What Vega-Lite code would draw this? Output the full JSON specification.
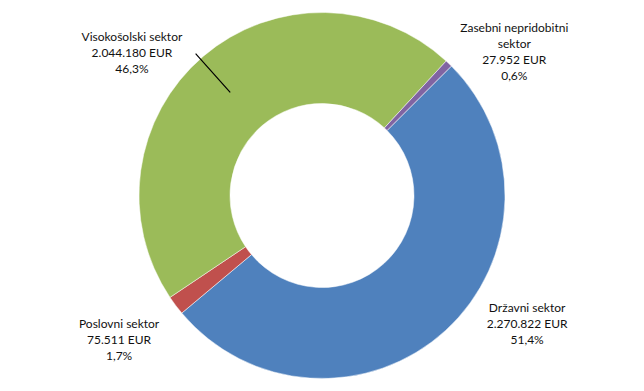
{
  "$schema": "https://vega.github.io/schema/vega-lite/v6.json",
  "width": 644,
  "height": 391,
  "autosize": {"type": "fit", "contains": "padding"},
  "padding": 0,
  "background": "white",
  "view": {"stroke": null},
  "data": {
    "values": [
      {"sector": "Državni sektor", "order": 1, "value": 2270822, "label": "Državni sektor\n2.270.822 EUR\n51,4%"},
      {"sector": "Poslovni sektor", "order": 2, "value": 75511, "label": "Poslovni sektor\n75.511 EUR\n1,7%"},
      {"sector": "Visokošolski sektor", "order": 3, "value": 2044180, "label": "Visokošolski sektor\n2.044.180 EUR\n46,3%"},
      {"sector": "Zasebni nepridobitni sektor", "order": 4, "value": 27952, "label": "Zasebni nepridobitni\nsektor\n27.952 EUR\n0,6%"}
    ]
  },
  "transform": [
    {"window": [{"op": "sum", "field": "value", "as": "cum"}], "sort": [{"field": "order"}], "frame": [null, 0]},
    {"calculate": "datum.cum - datum.value / 2", "as": "mid"}
  ],
  "encoding": {
    "theta": {"field": "value", "type": "quantitative", "stack": true, "scale": {"range": [0.7854, 7.0686]}},
    "order": {"field": "order", "type": "quantitative"},
    "detail": {"field": "sector", "type": "nominal"}
  },
  "layer": [
    {
      "mark": {"type": "arc", "outerRadius": 183, "innerRadius": 92, "stroke": "white", "strokeWidth": 0.5},
      "encoding": {
        "color": {
          "field": "sector",
          "type": "nominal",
          "legend": null,
          "scale": {
            "domain": ["Državni sektor", "Poslovni sektor", "Visokošolski sektor", "Zasebni nepridobitni sektor"],
            "range": ["#4F81BD", "#C0504D", "#9BBB59", "#8064A2"]
          }
        }
      }
    },
    {
      "transform": [{"filter": "datum.sector === 'Visokošolski sektor'"}],
      "mark": {"type": "arc", "outerRadius": 190, "innerRadius": 138, "stroke": "black", "strokeWidth": 1.2, "fill": "black", "thetaOffset": -0.02, "theta2Offset": -0.02},
      "encoding": {
        "theta": {"field": "mid", "type": "quantitative", "stack": null},
        "theta2": {"field": "mid"}
      }
    },
    {
      "transform": [{"filter": "datum.sector === 'Državni sektor'"}],
      "mark": {"type": "text", "radius": 240, "dx": 43, "dy": -64, "font": "Lato", "fontSize": 12, "lineHeight": 16, "lineBreak": "\n", "align": "center", "baseline": "middle", "color": "#111111"},
      "encoding": {"theta": {"field": "mid", "type": "quantitative", "stack": null}, "text": {"field": "label"}}
    },
    {
      "transform": [{"filter": "datum.sector === 'Poslovni sektor'"}],
      "mark": {"type": "text", "radius": 240, "dx": -11, "dy": -16, "font": "Lato", "fontSize": 12, "lineHeight": 16, "lineBreak": "\n", "align": "center", "baseline": "middle", "color": "#111111"},
      "encoding": {"theta": {"field": "mid", "type": "quantitative", "stack": null}, "text": {"field": "label"}}
    },
    {
      "transform": [{"filter": "datum.sector === 'Visokošolski sektor'"}],
      "mark": {"type": "text", "radius": 240, "dx": -34, "dy": 24, "font": "Lato", "fontSize": 12, "lineHeight": 16, "lineBreak": "\n", "align": "center", "baseline": "middle", "color": "#111111"},
      "encoding": {"theta": {"field": "mid", "type": "quantitative", "stack": null}, "text": {"field": "label"}}
    },
    {
      "transform": [{"filter": "datum.sector === 'Zasebni nepridobitni sektor'"}],
      "mark": {"type": "text", "radius": 240, "dx": 26, "dy": 6, "font": "Lato", "fontSize": 12, "lineHeight": 16, "lineBreak": "\n", "align": "center", "baseline": "middle", "color": "#111111"},
      "encoding": {"theta": {"field": "mid", "type": "quantitative", "stack": null}, "text": {"field": "label"}}
    }
  ]
}
